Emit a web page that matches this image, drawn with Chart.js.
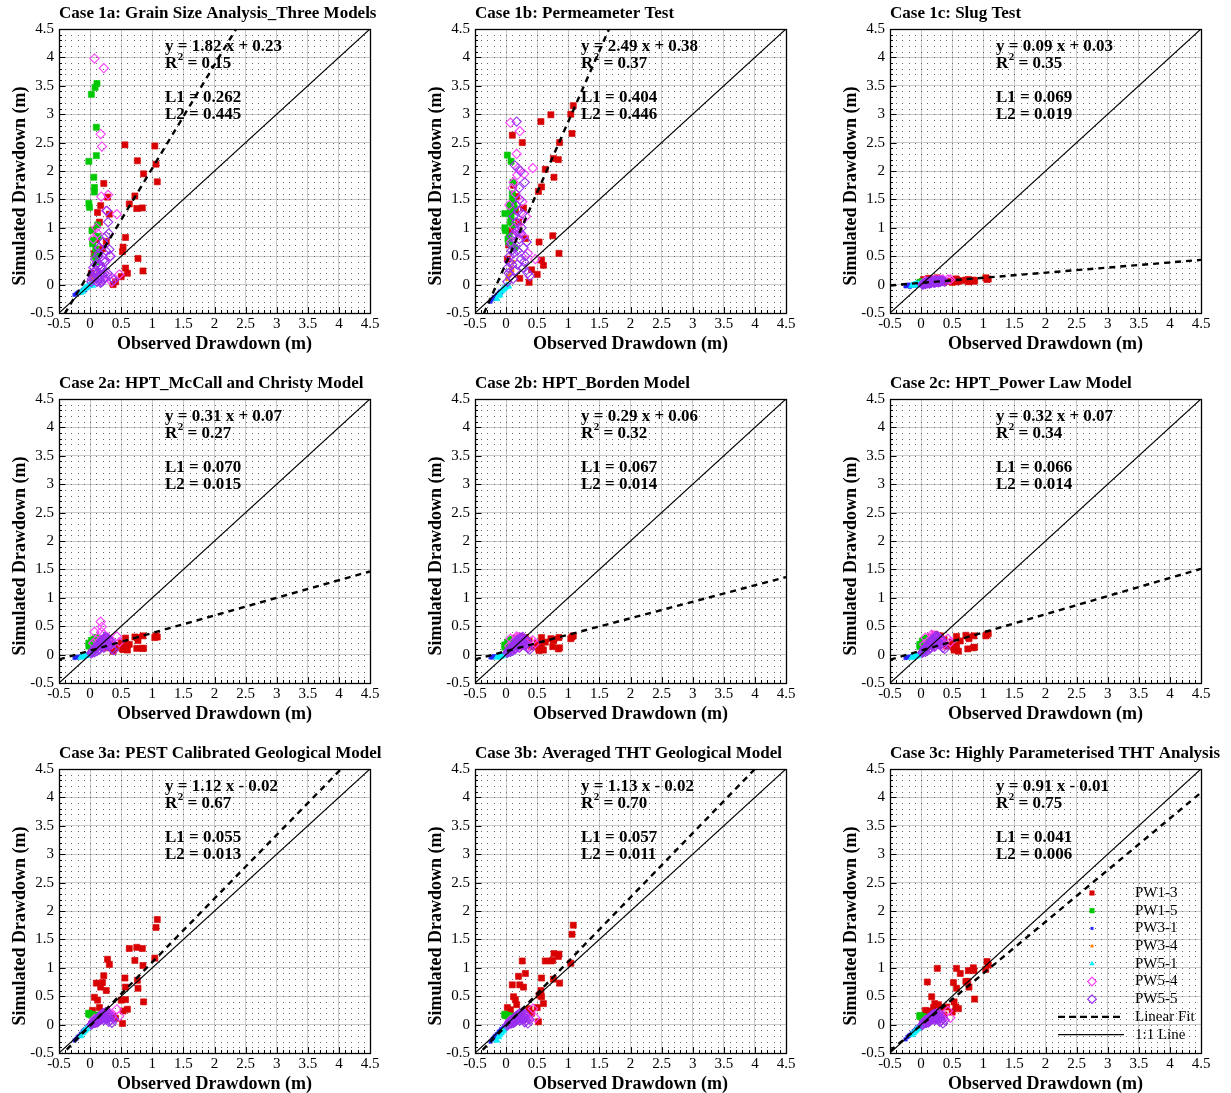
<!DOCTYPE html>
<html><head><meta charset="utf-8">
<script src="https://cdn.jsdelivr.net/npm/chart.js@4.4.1/dist/chart.umd.min.js"></script>
<style>
html,body{margin:0;padding:0;background:#fff;overflow:hidden;}
body{width:1231px;height:1093px;position:relative;}
canvas{position:absolute;}
</style>
</head><body>
<script>
// ---------- text / labels ----------
const panelTitles = [
  'Case 1a: Grain Size Analysis_Three Models',
  'Case 1b: Permeameter Test',
  'Case 1c: Slug Test',
  'Case 2a: HPT_McCall and Christy Model',
  'Case 2b: HPT_Borden Model',
  'Case 2c: HPT_Power Law Model',
  'Case 3a: PEST Calibrated Geological Model',
  'Case 3b: Averaged THT Geological Model',
  'Case 3c: Highly Parameterised THT Analysis'
];
const eqText = ['y = 1.82 x + 0.23','y = 2.49 x + 0.38','y = 0.09 x + 0.03','y = 0.31 x + 0.07','y = 0.29 x + 0.06','y = 0.32 x + 0.07','y = 1.12 x - 0.02','y = 1.13 x - 0.02','y = 0.91 x - 0.01'];
const fitSlopes = [1.82, 2.49, 0.09, 0.31, 0.29, 0.32, 1.12, 1.13, 0.91];
const fitIntercepts = [0.23, 0.38, 0.03, 0.07, 0.06, 0.07, -0.02, -0.02, -0.01];
const fitR2 = ['0.15','0.37','0.35','0.27','0.32','0.34','0.67','0.70','0.75'];
const errL1 = ['0.262','0.404','0.069','0.070','0.067','0.066','0.055','0.057','0.041'];
const errL2 = ['0.445','0.446','0.019','0.015','0.014','0.014','0.013','0.011','0.006'];
const tickValues = [-0.5, 0, 0.5, 1, 1.5, 2, 2.5, 3, 3.5, 4, 4.5];
const tickLabels = ['-0.5','0','0.5','1','1.5','2','2.5','3','3.5','4','4.5'];
const seriesNames = ['PW1-3','PW1-5','PW3-1','PW3-4','PW5-1','PW5-4','PW5-5'];
const xTitle = 'Observed Drawdown (m)';
const yTitle = 'Simulated Drawdown (m)';

// ---------- observed drawdown per well ----------
const obs_PW1_3 = [1.08,1.06,1.04,0.86,0.85,0.84,0.77,0.76,0.75,0.72,0.63,0.60,0.57,0.57,0.56,0.53,0.52,0.50,0.41,0.37,0.31,0.28,0.26,0.22,0.20,0.17,0.15,0.12,0.10,0.07,0.04,0.02];
const obs_PW1_5 = [0.02,0.08,0.11,0.10,0.10,-0.02,0.06,0.07,0.07,-0.02,-0.01,0.12,0.05,0.03,0.09,0.13,0.04,0.08,0.10,0.14];
const obs_PW3_1 = [-0.25,-0.22,-0.20,-0.18,-0.15,-0.12,-0.10,-0.08,-0.05,-0.03,0.00,0.03];
const obs_PW3_4 = [0.02,0.04,0.06,0.08,0.10,0.12];
const obs_PW5_1 = [-0.15,-0.12,-0.10,-0.08,-0.06,-0.04,-0.02,0.00,0.02,0.04];
const obs_PW5_4 = [0.07,0.22,0.17,0.19,0.43,0.29,0.18,0.26,0.10,0.05,0.32,0.13,0.21,0.15,0.24,0.08,0.28,0.35,0.12,0.47];
const obs_PW5_5 = [0.02,0.04,0.05,0.07,0.08,0.10,0.11,0.12,0.13,0.15,0.16,0.17,0.18,0.20,0.21,0.22,0.24,0.25,0.27,0.28,0.30,0.31,0.33,0.35,0.38,
                   0.03,0.06,0.09,0.12,0.14,0.16,0.19,0.21,0.23,0.26,0.29,0.14,0.09,0.18,0.24];

// ---------- simulated drawdown, case 1a ----------
const sim1a_PW1_3 = [1.81,2.12,2.44,1.95,0.24,1.35,0.46,2.18,1.34,1.56,1.42,0.20,0.83,0.29,2.46,0.66,0.58,0.14,0.05,0.00,1.24,1.54,0.76,1.78,0.63,1.39,1.10,1.27,0.79,0.55,0.96,0.20];
const sim1a_PW1_5 = [3.35,3.47,3.54,2.77,2.27,2.17,1.89,1.71,1.63,1.43,1.36,1.05,0.78,0.95,0.63,0.85,0.72,0.50,0.40,0.55];
const sim1a_PW3_1 = [-0.18,-0.16,-0.14,-0.15,-0.12,-0.10,-0.08,-0.10,-0.06,-0.04,-0.02,0.00];
const sim1a_PW3_4 = [0.05,0.10,0.08,0.15,0.12,0.20];
const sim1a_PW5_1 = [-0.14,-0.12,-0.08,-0.06,-0.05,-0.03,-0.02,-0.01,0.00,-0.02];
const sim1a_PW5_4 = [3.98,3.81,2.65,2.43,1.24,1.58,1.55,1.30,1.00,0.80,0.50,0.32,0.08,0.65,0.40,0.25,0.15,0.05,0.90,0.18];
const sim1a_PW5_5 = [0.05,0.15,0.30,0.10,0.45,0.25,0.05,0.20,0.50,0.12,0.35,0.03,0.28,0.18,0.75,0.10,0.40,0.60,1.30,0.20,0.90,0.62,0.50,0.12,0.08,
                     0.10,0.22,0.35,0.15,0.55,0.08,0.30,0.42,0.20,0.85,1.10,0.65,0.18,0.05,0.12];
// case 1b
const sim1b_PW1_3 = [3.15,2.66,3.00,2.50,0.55,2.20,1.89,2.22,0.86,2.99,2.03,0.34,1.72,0.43,2.87,0.75,1.64,0.18,0.26,0.04,0.81,1.35,2.50,0.11,1.10,1.55,1.30,1.75,2.63,0.95,0.70,0.45];
const sim1b_PW1_5 = [2.28,2.17,1.80,1.60,1.50,1.25,1.40,1.30,1.10,1.00,0.95,1.45,0.85,0.80,0.70,1.35,0.75,1.20,1.05,0.65];
const sim1b_PW3_1 = [-0.30,-0.26,-0.22,-0.25,-0.18,-0.15,-0.12,-0.14,-0.08,-0.05,-0.03,0.00];
const sim1b_PW3_4 = [0.10,0.15,0.20,0.30,0.25,0.40];
const sim1b_PW5_1 = [-0.25,-0.20,-0.18,-0.12,-0.10,-0.08,-0.06,-0.04,-0.02,-0.03];
const sim1b_PW5_4 = [2.85,2.70,2.30,2.05,2.05,1.95,1.93,1.46,1.70,1.40,1.20,1.00,0.90,1.60,1.10,0.75,0.85,0.55,1.80,0.45];
const sim1b_PW5_5 = [0.05,0.20,0.40,0.15,0.70,0.35,0.10,0.55,0.90,0.25,1.10,2.87,0.60,1.30,0.80,1.50,0.45,1.00,0.30,0.65,1.80,0.50,0.75,0.20,0.15,
                     0.30,0.50,0.85,1.20,0.65,1.40,0.95,1.70,2.00,1.25,0.40,2.10,0.60,0.35,0.90];
// case 1c
const sim1c_PW1_3 = [0.10,0.09,0.12,0.07,0.06,0.08,0.05,0.09,0.06,0.08,0.07,0.06,0.09,0.05,0.10,0.06,0.08,0.04,0.06,0.05,0.10,0.08,0.12,0.07,0.09,0.10,0.06,0.11,0.08,0.07,0.09,0.05];
const sim1c_PW1_5 = [0.05,0.06,0.07,0.06,0.05,0.03,0.04,0.05,0.06,0.03,0.04,0.07,0.04,0.03,0.05,0.06,0.04,0.05,0.06,0.07];
const sim1c_PW3_1 = [-0.03,-0.02,0.00,-0.04,-0.01,0.01,-0.02,0.02,0.00,-0.01,0.01,0.03];
const sim1c_PW3_4 = [0.02,0.03,0.03,0.04,0.04,0.05];
const sim1c_PW5_1 = [-0.02,-0.01,0.00,0.01,-0.01,0.01,0.00,0.02,0.01,0.03];
const sim1c_PW5_4 = [0.06,0.08,0.05,0.07,0.09,0.08,0.06,0.07,0.05,0.04,0.08,0.05,0.06,0.05,0.07,0.04,0.08,0.09,0.05,0.09];
const sim1c_PW5_5 = [0.00,0.01,0.02,0.01,0.03,0.02,0.04,0.03,0.02,0.05,0.03,0.04,0.06,0.04,0.05,0.03,0.06,0.05,0.07,0.04,0.06,0.05,0.07,0.06,0.05,
                     0.01,0.02,0.03,0.04,0.05,0.03,0.06,0.04,0.07,0.05,0.06,0.02,0.03,0.05,0.06];
// case 2a
const sim2a_PW1_3 = [0.31,0.33,0.30,0.11,0.33,0.11,0.25,0.30,0.11,0.31,0.18,0.08,0.29,0.18,0.13,0.09,0.10,0.21,0.12,0.06,0.21,0.24,0.12,0.28,0.18,0.22,0.26,0.15,0.20,0.12,0.18,0.10];
const sim2a_PW1_5 = [0.25,0.28,0.22,0.30,0.26,0.20,0.18,0.24,0.27,0.15,0.17,0.29,0.21,0.19,0.23,0.26,0.16,0.22,0.25,0.28];
const sim2a_PW3_1 = [-0.06,-0.05,-0.04,-0.05,-0.03,-0.02,-0.03,-0.01,-0.02,0.00,0.01,0.02];
const sim2a_PW3_4 = [0.06,0.08,0.09,0.10,0.11,0.12];
const sim2a_PW5_1 = [-0.05,-0.04,-0.03,-0.02,-0.02,-0.01,0.00,0.01,0.02,0.03];
const sim2a_PW5_4 = [0.40,0.35,0.58,0.49,0.32,0.30,0.40,0.28,0.25,0.20,0.22,0.18,0.15,0.24,0.26,0.12,0.20,0.18,0.14,0.22];
const sim2a_PW5_5 = [0.02,0.05,0.08,0.04,0.10,0.12,0.06,0.15,0.18,0.09,0.20,0.14,0.22,0.16,0.25,0.12,0.28,0.18,0.30,0.20,0.26,0.15,0.24,0.10,0.08,
                     0.04,0.07,0.11,0.14,0.17,0.20,0.23,0.19,0.27,0.22,0.16,0.09,0.13,0.25,0.31];
// case 2b
const sim2b_PW1_3 = [0.33,0.31,0.28,0.12,0.30,0.10,0.27,0.25,0.14,0.28,0.22,0.08,0.30,0.15,0.12,0.07,0.11,0.20,0.14,0.25,0.30,0.28,0.15,0.32,0.20,0.25,0.29,0.18,0.26,0.15,0.22,0.12];
const sim2b_PW1_5 = [0.22,0.25,0.20,0.27,0.23,0.17,0.15,0.21,0.24,0.13,0.15,0.26,0.18,0.16,0.20,0.23,0.14,0.19,0.22,0.25];
const sim2b_PW3_1 = [-0.05,-0.05,-0.03,-0.04,-0.03,-0.02,-0.02,-0.01,-0.01,0.00,0.01,0.02];
const sim2b_PW3_4 = [0.05,0.07,0.08,0.09,0.10,0.11];
const sim2b_PW5_1 = [-0.05,-0.04,-0.04,-0.03,-0.02,-0.01,0.00,0.00,0.01,0.02];
const sim2b_PW5_4 = [0.28,0.30,0.32,0.30,0.25,0.27,0.28,0.22,0.20,0.15,0.20,0.14,0.12,0.18,0.22,0.10,0.18,0.15,0.12,0.20];
const sim2b_PW5_5 = [0.03,0.06,0.09,0.05,0.11,0.13,0.07,0.16,0.19,0.10,0.21,0.15,0.23,0.17,0.26,0.13,0.29,0.19,0.31,0.21,0.27,0.16,0.25,0.11,0.09,
                     0.05,0.08,0.12,0.15,0.18,0.21,0.24,0.20,0.28,0.23,0.17,0.10,0.14,0.26,0.30];
// case 2c
const sim2c_PW1_3 = [0.37,0.35,0.33,0.13,0.33,0.12,0.28,0.31,0.10,0.34,0.24,0.06,0.32,0.16,0.10,0.08,0.13,0.22,0.15,0.27,0.33,0.30,0.17,0.36,0.22,0.28,0.31,0.20,0.29,0.17,0.24,0.14];
const sim2c_PW1_5 = [0.24,0.27,0.21,0.29,0.25,0.18,0.16,0.22,0.26,0.14,0.16,0.28,0.20,0.17,0.22,0.25,0.15,0.21,0.24,0.27];
const sim2c_PW3_1 = [-0.06,-0.05,-0.04,-0.04,-0.03,-0.03,-0.02,-0.01,-0.01,0.00,0.01,0.02];
const sim2c_PW3_4 = [0.06,0.08,0.09,0.10,0.11,0.12];
const sim2c_PW5_1 = [-0.05,-0.05,-0.03,-0.03,-0.02,-0.01,0.00,0.01,0.01,0.03];
const sim2c_PW5_4 = [0.30,0.32,0.35,0.33,0.28,0.30,0.30,0.25,0.22,0.18,0.22,0.16,0.14,0.20,0.24,0.12,0.20,0.17,0.14,0.22];
const sim2c_PW5_5 = [0.03,0.06,0.10,0.05,0.12,0.14,0.08,0.17,0.20,0.11,0.22,0.16,0.24,0.18,0.27,0.14,0.30,0.20,0.32,0.22,0.28,0.17,0.26,0.12,0.10,
                     0.05,0.09,0.13,0.16,0.19,0.22,0.25,0.21,0.29,0.24,0.18,0.11,0.15,0.27,0.33];
// case 3a
const sim3a_PW1_3 = [1.85,1.71,1.17,0.40,1.04,1.34,0.64,0.78,1.36,1.13,1.34,0.27,0.66,0.44,0.82,0.24,0.02,0.43,0.11,0.15,1.06,1.15,0.60,0.86,0.74,0.66,0.30,0.43,0.73,0.48,0.25,0.20];
const sim3a_PW1_5 = [0.18,0.15,0.12,0.17,0.14,0.19,0.13,0.16,0.11,0.20,0.18,0.14,0.12,0.16,0.15,0.13,0.17,0.12,0.15,0.14];
const sim3a_PW3_1 = [-0.28,-0.25,-0.22,-0.20,-0.16,-0.12,-0.10,-0.08,-0.05,-0.03,0.00,0.02];
const sim3a_PW3_4 = [0.03,0.05,0.06,0.08,0.09,0.11];
const sim3a_PW5_1 = [-0.20,-0.15,-0.12,-0.10,-0.08,-0.05,-0.04,-0.02,0.00,0.02];
const sim3a_PW5_4 = [0.10,0.15,0.12,0.18,0.27,0.20,0.14,0.16,0.08,0.05,0.20,0.10,0.12,0.09,0.15,0.06,0.18,0.14,0.08,0.15];
const sim3a_PW5_5 = [0.00,0.02,0.05,0.03,0.08,0.06,0.10,0.04,0.12,0.07,0.15,0.09,0.18,0.11,0.20,0.08,0.14,0.22,0.10,0.16,0.05,0.12,0.08,0.03,0.10,
                     0.01,0.04,0.07,0.09,0.13,0.10,0.17,0.14,0.19,0.12,0.21,0.06,0.03,0.15,0.11];
// case 3b
const sim3b_PW1_3 = [1.75,1.59,1.08,0.73,1.24,1.20,1.25,0.80,1.13,1.12,1.12,0.37,0.82,0.49,0.60,0.52,0.05,0.30,0.20,0.28,0.90,0.66,1.12,0.70,0.85,0.35,0.44,0.49,0.70,0.26,0.15,0.30];
const sim3b_PW1_5 = [0.16,0.14,0.11,0.15,0.13,0.17,0.12,0.14,0.10,0.18,0.16,0.13,0.11,0.15,0.14,0.12,0.15,0.11,0.14,0.13];
const sim3b_PW3_1 = [-0.30,-0.26,-0.23,-0.20,-0.17,-0.13,-0.11,-0.08,-0.06,-0.03,-0.01,0.02];
const sim3b_PW3_4 = [0.02,0.04,0.06,0.07,0.09,0.10];
const sim3b_PW5_1 = [-0.28,-0.22,-0.18,-0.15,-0.12,-0.10,-0.06,-0.04,-0.02,0.00];
const sim3b_PW5_4 = [0.08,0.12,0.10,0.15,0.28,0.18,0.12,0.14,0.06,0.04,0.16,0.08,0.10,0.07,0.12,0.05,0.15,0.10,0.06,0.12];
const sim3b_PW5_5 = [-0.02,0.01,0.04,0.02,0.07,0.05,0.09,0.03,0.11,0.06,0.14,0.08,0.17,0.10,0.19,0.07,0.13,0.21,0.09,0.15,0.04,0.11,0.07,0.02,0.09,
                     0.00,0.03,0.06,0.08,0.12,0.09,0.16,0.13,0.18,0.11,0.20,0.05,0.02,0.14,0.10];
// case 3c
const sim3c_PW1_3 = [1.05,1.11,0.97,0.45,0.95,1.00,0.66,0.95,0.76,0.76,0.90,0.28,0.64,0.99,0.31,0.40,0.74,0.22,0.31,0.17,0.30,0.35,0.99,0.37,0.30,0.49,0.20,0.24,0.75,0.25,0.15,0.10];
const sim3c_PW1_5 = [0.14,0.12,0.10,0.13,0.11,0.15,0.10,0.12,0.09,0.16,0.14,0.11,0.10,0.13,0.12,0.10,0.13,0.09,0.12,0.11];
const sim3c_PW3_1 = [-0.26,-0.22,-0.20,-0.18,-0.15,-0.12,-0.10,-0.07,-0.05,-0.03,0.00,0.02];
const sim3c_PW3_4 = [0.02,0.04,0.05,0.07,0.08,0.10];
const sim3c_PW5_1 = [-0.18,-0.15,-0.12,-0.10,-0.08,-0.06,-0.04,-0.02,0.00,0.02];
const sim3c_PW5_4 = [0.08,0.12,0.10,0.14,0.24,0.16,0.12,0.14,0.06,0.05,0.15,0.08,0.10,0.07,0.12,0.05,0.14,0.10,0.06,0.12];
const sim3c_PW5_5 = [-0.01,0.02,0.05,0.03,0.08,0.06,0.10,0.04,0.12,0.07,0.15,0.09,0.17,0.11,0.19,0.08,0.13,0.20,0.10,0.15,0.05,0.11,0.07,0.02,0.08,
                     0.01,0.04,0.07,0.09,0.12,0.10,0.16,0.13,0.18,0.12,0.20,0.06,0.03,0.14,0.10];

// ---------- assemble ----------
const observed = [obs_PW1_3, obs_PW1_5, obs_PW3_1, obs_PW3_4, obs_PW5_1, obs_PW5_4, obs_PW5_5];
const simulated = [
  [sim1a_PW1_3, sim1a_PW1_5, sim1a_PW3_1, sim1a_PW3_4, sim1a_PW5_1, sim1a_PW5_4, sim1a_PW5_5],
  [sim1b_PW1_3, sim1b_PW1_5, sim1b_PW3_1, sim1b_PW3_4, sim1b_PW5_1, sim1b_PW5_4, sim1b_PW5_5],
  [sim1c_PW1_3, sim1c_PW1_5, sim1c_PW3_1, sim1c_PW3_4, sim1c_PW5_1, sim1c_PW5_4, sim1c_PW5_5],
  [sim2a_PW1_3, sim2a_PW1_5, sim2a_PW3_1, sim2a_PW3_4, sim2a_PW5_1, sim2a_PW5_4, sim2a_PW5_5],
  [sim2b_PW1_3, sim2b_PW1_5, sim2b_PW3_1, sim2b_PW3_4, sim2b_PW5_1, sim2b_PW5_4, sim2b_PW5_5],
  [sim2c_PW1_3, sim2c_PW1_5, sim2c_PW3_1, sim2c_PW3_4, sim2c_PW5_1, sim2c_PW5_4, sim2c_PW5_5],
  [sim3a_PW1_3, sim3a_PW1_5, sim3a_PW3_1, sim3a_PW3_4, sim3a_PW5_1, sim3a_PW5_4, sim3a_PW5_5],
  [sim3b_PW1_3, sim3b_PW1_5, sim3b_PW3_1, sim3b_PW3_4, sim3b_PW5_1, sim3b_PW5_4, sim3b_PW5_5],
  [sim3c_PW1_3, sim3c_PW1_5, sim3c_PW3_1, sim3c_PW3_4, sim3c_PW5_1, sim3c_PW5_4, sim3c_PW5_5]
];

// ---------- styles ----------
const seriesStyles = [
  {shape:'rect', r:4.3, color:'#D80000', open:false, lr:3.6},
  {shape:'rect', r:4.3, color:'#00C800', open:false, lr:3.6},
  {shape:'rect', r:2.4, color:'#2424FF', open:false, lr:2.1},
  {shape:'rect', r:2.4, color:'#FF8000', open:false, lr:2.1},
  {shape:'triangle', r:3.7, color:'#00F0FF', open:false, lr:3.0},
  {shape:'rectRot', r:4.6, color:'#FF40FF', open:true, lr:4.3},
  {shape:'rectRot', r:4.6, color:'#9A30F0', open:true, lr:4.3}
];
const FONT = '"Liberation Serif", "Times New Roman", serif';
Chart.defaults.font.family = FONT;
Chart.defaults.color = '#000';

function drawLegendMarker(ctx, st, x, y) {
  const r = st.lr;
  ctx.save();
  ctx.fillStyle = st.color; ctx.strokeStyle = st.color; ctx.lineWidth = 1.2;
  ctx.beginPath();
  if (st.shape === 'rect') {
    const h = r * Math.SQRT1_2;
    ctx.rect(x - h, y - h, 2 * h, 2 * h);
  } else if (st.shape === 'triangle') {
    ctx.moveTo(x, y - r); ctx.lineTo(x + r * 0.87, y + r * 0.5); ctx.lineTo(x - r * 0.87, y + r * 0.5); ctx.closePath();
  } else {
    ctx.moveTo(x, y - r); ctx.lineTo(x + r, y); ctx.lineTo(x, y + r); ctx.lineTo(x - r, y); ctx.closePath();
  }
  if (st.open) ctx.stroke(); else ctx.fill();
  ctx.restore();
}

const decor = {
  id: 'panelDecor',
  beforeDatasetsDraw(chart, args, opts) {
    const i = opts.idx;
    const {ctx, chartArea: a, scales: {x, y}} = chart;
    ctx.save();
    // dotted minor grid (0.1 steps)
    ctx.fillStyle = '#666';
    for (let ix = -4; ix <= 44; ix++) {
      const px = Math.round(x.getPixelForValue(ix / 10));
      for (let iy = -4; iy <= 44; iy++) {
        const py = Math.round(y.getPixelForValue(iy / 10));
        ctx.fillRect(px, py, 1, 1);
      }
    }
    // texts
    ctx.fillStyle = '#000';
    ctx.textBaseline = 'middle';
    ctx.textAlign = 'left';
    ctx.font = 'bold 17px ' + FONT;
    ctx.fillText(panelTitles[i], a.left, 14);
    const tx = a.left + 106;
    ctx.fillText(eqText[i], tx, a.top + 18);
    ctx.fillText('R', tx, a.top + 35);
    const wR = ctx.measureText('R').width;
    ctx.font = 'bold 11px ' + FONT;
    ctx.fillText('2', tx + wR + 0.5, a.top + 28);
    const w2 = ctx.measureText('2').width;
    ctx.font = 'bold 17px ' + FONT;
    ctx.fillText(' = ' + fitR2[i], tx + wR + 0.5 + w2, a.top + 35);
    ctx.fillText('L1 = ' + errL1[i], tx, a.top + 69);
    ctx.fillText('L2 = ' + errL2[i], tx, a.top + 86);
    // y axis title
    ctx.save();
    ctx.translate(20, a.top + 157);
    ctx.rotate(-Math.PI / 2);
    ctx.textAlign = 'center';
    ctx.font = 'bold 18px ' + FONT;
    ctx.fillText(yTitle, 0, 0);
    ctx.restore();
    ctx.restore();
  },
  afterDatasetsDraw(chart, args, opts) {
    const {ctx, chartArea: a, scales: {x, y}} = chart;
    ctx.save();
    ctx.strokeStyle = '#000';
    ctx.lineWidth = 1;
    // inward ticks
    ctx.beginPath();
    for (let k = -5; k <= 45; k++) {
      const len = (k % 5 === 0) ? 6 : 3;
      const py = Math.round(y.getPixelForValue(k / 10)) + 0.5;
      ctx.moveTo(a.left, py); ctx.lineTo(a.left + len, py);
      const px = Math.round(x.getPixelForValue(k / 10)) + 0.5;
      ctx.moveTo(px, a.bottom); ctx.lineTo(px, a.bottom - len);
    }
    ctx.stroke();
    // frame
    ctx.lineWidth = 1.3;
    ctx.strokeRect(Math.round(a.left) + 0.5, Math.round(a.top) + 0.5, Math.round(a.right - a.left), Math.round(a.bottom - a.top));
    // legend (last panel)
    if (opts.legend) {
      const mx = a.left + 202, lxText = a.left + 245, y0 = a.top + 124, dy = 17.7;
      ctx.font = '15px ' + FONT;
      ctx.textBaseline = 'middle';
      ctx.fillStyle = '#000';
      seriesNames.forEach((n, k) => {
        const yy = y0 + k * dy;
        drawLegendMarker(ctx, seriesStyles[k], mx, yy);
        ctx.fillText(n, lxText, yy);
      });
      let yy = y0 + 7 * dy;
      ctx.beginPath(); ctx.setLineDash([7, 4]); ctx.lineWidth = 2.4;
      ctx.moveTo(a.left + 168, yy); ctx.lineTo(a.left + 231, yy); ctx.stroke();
      ctx.fillText('Linear Fit', lxText, yy);
      yy = y0 + 8 * dy;
      ctx.beginPath(); ctx.setLineDash([]); ctx.lineWidth = 1.2;
      ctx.moveTo(a.left + 168, yy); ctx.lineTo(a.left + 234, yy); ctx.stroke();
      ctx.fillText('1:1 Line', lxText, yy);
    }
    ctx.restore();
  }
};

const colLeft = [0, 416, 831];
const rowTop = [0, 370, 740];

for (let i = 0; i < 9; i++) {
  const cv = document.createElement('canvas');
  cv.width = 415; cv.height = 355;
  cv.style.left = colLeft[i % 3] + 'px';
  cv.style.top = rowTop[Math.floor(i / 3)] + 'px';
  cv.style.width = '415px'; cv.style.height = '355px';
  document.body.appendChild(cv);

  const datasets = [];
  const m = fitSlopes[i], b = fitIntercepts[i];
  const x0 = tickValues[0], x1 = tickValues[tickValues.length - 1];
  datasets.push({
    type: 'line', label: '1:1 Line',
    data: [{x: x0, y: x0}, {x: x1, y: x1}],
    borderColor: '#000', borderWidth: 1.2, pointRadius: 0, fill: false, order: 0
  });
  datasets.push({
    type: 'line', label: 'Linear Fit',
    data: [{x: x0, y: m * x0 + b}, {x: x1, y: m * x1 + b}],
    borderColor: '#000', borderWidth: 2.4, borderDash: [6, 5], pointRadius: 0, fill: false, order: 0
  });
  seriesNames.forEach((name, k) => {
    const st = seriesStyles[k];
    const obs = observed[k], sim = simulated[i][k];
    datasets.push({
      label: name,
      data: obs.map((v, j) => ({x: v, y: sim[j]})),
      pointStyle: st.shape,
      pointRadius: st.r,
      pointHoverRadius: st.r,
      backgroundColor: st.open ? 'rgba(0,0,0,0)' : st.color,
      borderColor: st.color,
      pointBorderWidth: st.open ? 1.1 : 0.6,
      showLine: false,
      order: 8 - k
    });
  });

  new Chart(cv, {
    type: 'scatter',
    data: {datasets},
    options: {
      responsive: false,
      animation: false,
      devicePixelRatio: 1,
      events: [],
      layout: {padding: {top: 29, right: 45, bottom: 0, left: 0}},
      plugins: {
        legend: {display: false},
        tooltip: {enabled: false},
        panelDecor: {idx: i, legend: i === 8}
      },
      scales: {
        x: {
          type: 'linear', min: -0.5, max: 4.5,
          afterFit: s => { s.height = 42; },
          afterBuildTicks: s => { s.ticks = tickValues.map(v => ({value: v})); },
          ticks: {autoSkip: false, maxRotation: 0, minRotation: 0, padding: 2,
                  font: {family: FONT, size: 15}, color: '#000',
                  callback: (v, idx) => tickLabels[idx]},
          grid: {color: '#c9c9c9', lineWidth: 1, drawTicks: false},
          border: {display: false},
          title: {display: true, text: xTitle, color: '#000', padding: 0,
                  font: {family: FONT, size: 18, weight: 'bold'}}
        },
        y: {
          type: 'linear', min: -0.5, max: 4.5,
          afterFit: s => { s.width = 59; },
          afterBuildTicks: s => { s.ticks = tickValues.map(v => ({value: v})); },
          ticks: {autoSkip: false, padding: 5,
                  font: {family: FONT, size: 15}, color: '#000',
                  callback: (v, idx) => tickLabels[idx]},
          grid: {color: '#c9c9c9', lineWidth: 1, drawTicks: false},
          border: {display: false}
        }
      }
    },
    plugins: [decor]
  });
}
</script>
</body></html>
